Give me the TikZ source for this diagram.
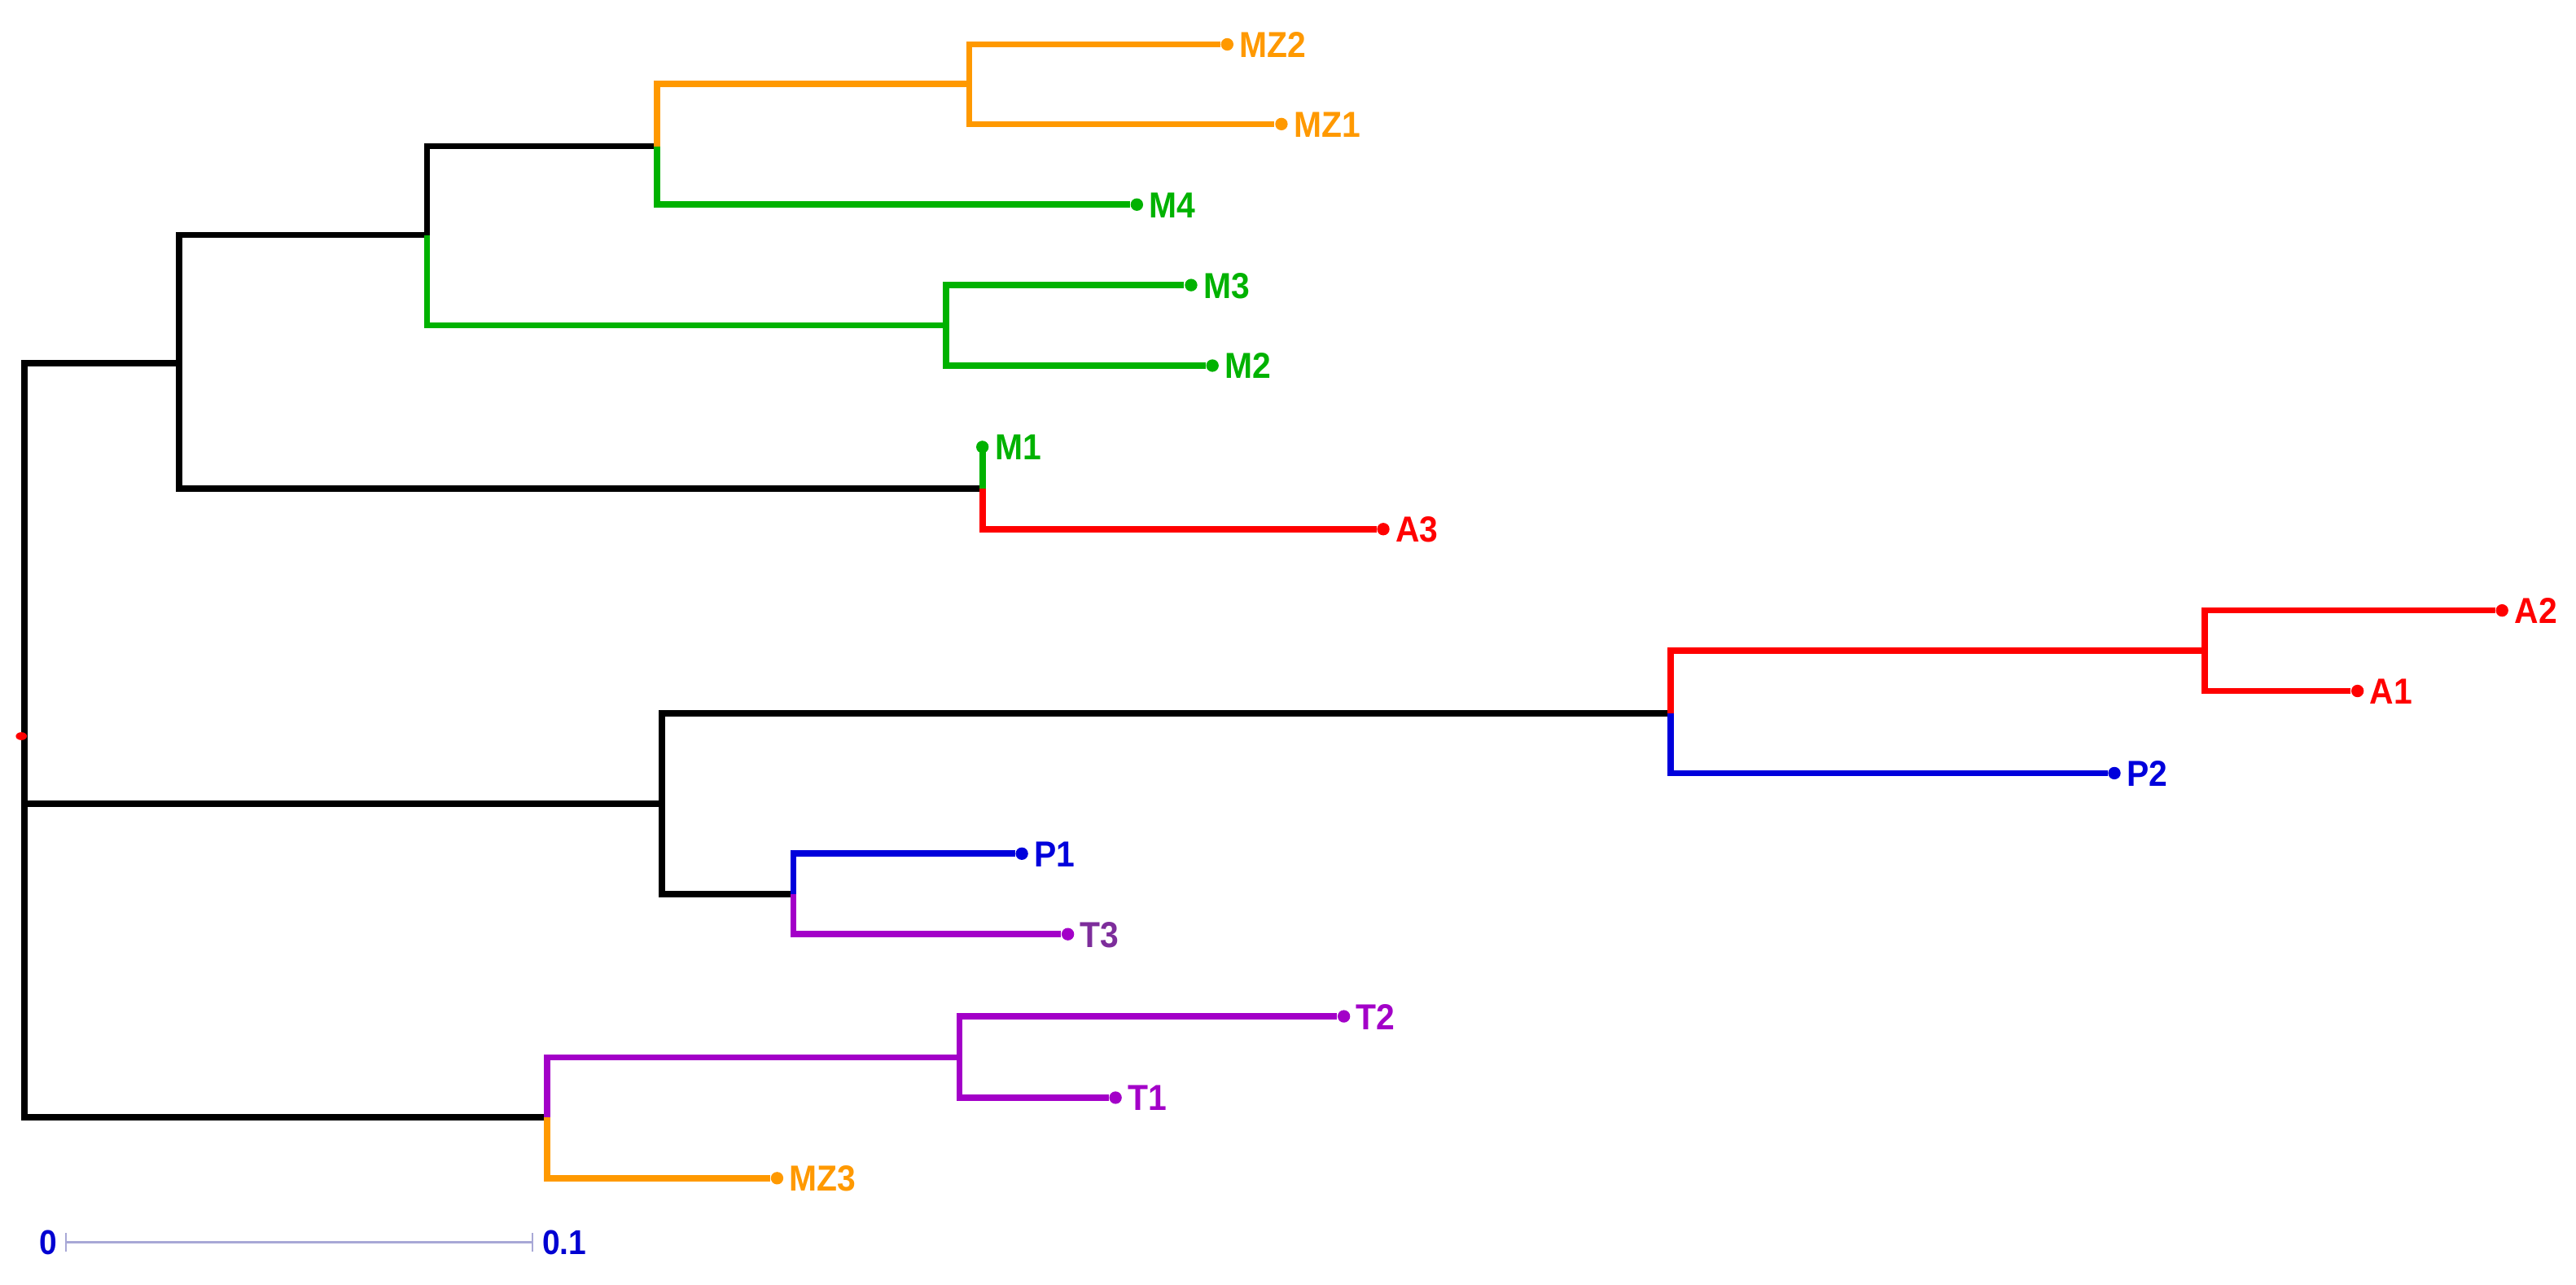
\documentclass[tikz,border=0pt]{standalone}
\usepackage{fontspec}
\setmainfont{Liberation Sans}
\newfontfamily\labfont[FakeStretch=0.92]{Liberation Sans}
\definecolor{tOrange}{RGB}{255,153,0}
\definecolor{tGreen}{RGB}{0,178,0}
\definecolor{tRed}{RGB}{255,0,0}
\definecolor{tBlue}{RGB}{0,0,220}
\definecolor{tPurple}{RGB}{163,0,200}
\definecolor{tPurpleText}{RGB}{125,45,155}
\definecolor{scaleBlue}{RGB}{0,0,210}
\definecolor{barLine}{RGB}{168,168,214}
\tikzset{
  br/.style={line width=1.9pt, line join=miter},
  tip/.style={circle, fill, inner sep=0pt, minimum size=3.8pt},
  lab/.style={font=\labfont\bfseries\fontsize{11}{13}\selectfont, inner sep=0pt,
              text height=7.9pt, text depth=0pt, anchor=west},
  scalelab/.style={font=\labfont\bfseries\fontsize{10.5}{12}\selectfont, inner sep=0pt,
              text height=7.5pt, text depth=0pt, text=scaleBlue},
  barline/.style={line width=0.6pt, draw=barLine}
}
\begin{document}
\begin{tikzpicture}[x=0.5pt,y=-0.5pt]
\useasboundingbox[fill=white] (0,0) rectangle (1568,782);

% internal nodes
\coordinate (r)     at (15,450);
\coordinate (n108)  at (109,221);
\coordinate (n260)  at (260,143);
\coordinate (n400)  at (400,89);
\coordinate (n590)  at (590,51);
\coordinate (n576)  at (576,198);
\coordinate (n598)  at (598,297.5);
\coordinate (n403)  at (403,489);
\coordinate (n1017) at (1017,434);
\coordinate (n1342) at (1342,396);
\coordinate (n483)  at (483,544);
\coordinate (n333)  at (333,680);
\coordinate (n584)  at (584,643.5);

% leaves
\node[tip, fill=tOrange] (MZ2) at (747,27) {};
\node[tip, fill=tOrange] (MZ1) at (780,75.5) {};
\node[tip, fill=tGreen]  (M4)  at (692,124.5) {};
\node[tip, fill=tGreen]  (M3)  at (725,173.5) {};
\node[tip, fill=tGreen]  (M2)  at (738,222.5) {};
\node[tip, fill=tGreen]  (M1)  at (598,272) {};
\node[tip, fill=tRed]    (A3)  at (842,322) {};
\node[tip, fill=tRed]    (A2)  at (1523,371.5) {};
\node[tip, fill=tRed]    (A1)  at (1435,420.5) {};
\node[tip, fill=tBlue]   (P2)  at (1287,470.5) {};
\node[tip, fill=tBlue]   (P1)  at (622,519.5) {};
\node[tip, fill=tPurple] (T3)  at (650,568.5) {};
\node[tip, fill=tPurple] (T2)  at (818,618.5) {};
\node[tip, fill=tPurple] (T1)  at (679,668) {};
\node[tip, fill=tOrange] (MZ3) at (473,717) {};

% branches
\draw[br, black] (r) |- (n108);
\draw[br, black] (r) |- (n403);
\draw[br, black] (r) |- (n333);
\draw[br, black] (n108) |- (n260);
\draw[br, black] (n108) |- (n598);
\draw[br, black] (n260) |- (n400);
\draw[br, tGreen] (n260) |- (n576);
\draw[br, tOrange] (n400) |- (n590);
\draw[br, tGreen] (n400) |- (M4);
\draw[br, tOrange] (n590) |- (MZ2);
\draw[br, tOrange] (n590) |- (MZ1);
\draw[br, tGreen] (n576) |- (M3);
\draw[br, tGreen] (n576) |- (M2);
\draw[br, tGreen] (n598) -- (M1.center);
\draw[br, tRed] (n598) |- (A3);
\draw[br, black] (n403) |- (n1017);
\draw[br, black] (n403) |- (n483);
\draw[br, tRed] (n1017) |- (n1342);
\draw[br, tBlue] (n1017) |- (P2);
\draw[br, tRed] (n1342) |- (A2);
\draw[br, tRed] (n1342) |- (A1);
\draw[br, tBlue] (n483) |- (P1);
\draw[br, tPurple] (n483) |- (T3);
\draw[br, tPurple] (n333) |- (n584);
\draw[br, tOrange] (n333) |- (MZ3);
\draw[br, tPurple] (n584) |- (T2);
\draw[br, tPurple] (n584) |- (T1);

% root marker
\fill[tRed] (13,448) ellipse [x radius=1.7pt, y radius=1.2pt];

% labels
\node[lab, text=tOrange] (lMZ2) at ([xshift=3.6pt]MZ2.center) {MZ2};
\node[lab, text=tOrange] (lMZ1) at ([xshift=3.6pt]MZ1.center) {MZ1};
\node[lab, text=tGreen]  (lM4)  at ([xshift=3.6pt]M4.center) {M4};
\node[lab, text=tGreen]  (lM3)  at ([xshift=3.6pt]M3.center) {M3};
\node[lab, text=tGreen]  (lM2)  at ([xshift=3.6pt]M2.center) {M2};
\node[lab, text=tGreen]  (lM1)  at ([xshift=3.6pt]M1.center) {M1};
\node[lab, text=tRed]    (lA3)  at ([xshift=3.6pt]A3.center) {A3};
\node[lab, text=tRed]    (lA2)  at ([xshift=3.6pt]A2.center) {A2};
\node[lab, text=tRed]    (lA1)  at ([xshift=3.6pt]A1.center) {A1};
\node[lab, text=tBlue]   (lP2)  at ([xshift=3.6pt]P2.center) {P2};
\node[lab, text=tBlue]   (lP1)  at ([xshift=3.6pt]P1.center) {P1};
\node[lab, text=tPurpleText] (lT3) at ([xshift=3.6pt]T3.center) {T3};
\node[lab, text=tPurple] (lT2)  at ([xshift=3.6pt]T2.center) {T2};
\node[lab, text=tPurple] (lT1)  at ([xshift=3.6pt]T1.center) {T1};
\node[lab, text=tOrange] (lMZ3) at ([xshift=3.6pt]MZ3.center) {MZ3};

% scale bar
\coordinate (b0) at (40,756);
\coordinate (b1) at (324,756);
\draw[barline] (b0) -- (b1);
\draw[barline] ([yshift=2.8pt]b0) -- ([yshift=-2.8pt]b0);
\draw[barline] ([yshift=2.8pt]b1) -- ([yshift=-2.8pt]b1);
\node[scalelab] (s0) at (29.5,756) {0};
\node[scalelab] (s1) at (343.5,756) {0.1};
\end{tikzpicture}
\end{document}
